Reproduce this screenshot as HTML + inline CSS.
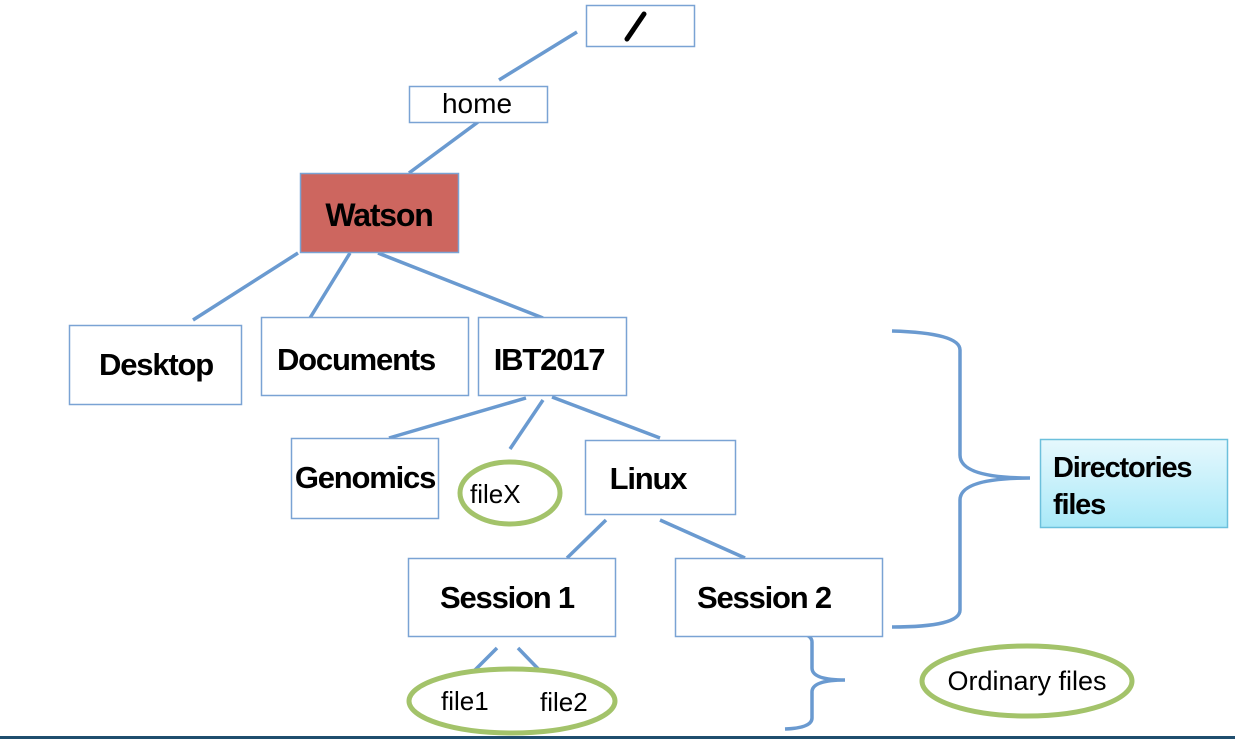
<!DOCTYPE html>
<html><head><meta charset="utf-8"><style>
html,body{margin:0;padding:0;background:#fff;}
svg{display:block}
text{font-family:"Liberation Sans",sans-serif;fill:#000}
.b{font-weight:bold;letter-spacing:-1.2px}
</style></head><body>
<svg width="1235" height="739" viewBox="0 0 1235 739" xmlns="http://www.w3.org/2000/svg">
<defs>
<linearGradient id="g" x1="0" y1="0" x2="0" y2="1"><stop offset="0" stop-color="#e6f8fd"/><stop offset="1" stop-color="#a9e9f8"/></linearGradient>
</defs>
<g fill="none" stroke="#6a9ad0" stroke-width="3.5" stroke-linecap="butt">
<line x1="577" y1="32" x2="499" y2="80"/>
<line x1="478" y1="122" x2="409" y2="173"/>
<line x1="298" y1="253" x2="193" y2="320"/>
<line x1="350" y1="253" x2="310" y2="318"/>
<line x1="378" y1="253" x2="543" y2="318"/>
<line x1="526" y1="398" x2="389" y2="438"/>
<line x1="543" y1="400" x2="510" y2="449"/>
<line x1="552" y1="397" x2="660" y2="438"/>
<line x1="606" y1="520" x2="567" y2="558"/>
<line x1="660" y1="520" x2="745" y2="558"/>
<line x1="497" y1="648" x2="467" y2="678"/>
<line x1="518" y1="648" x2="547" y2="678"/>
<path d="M892 331 Q960 333 960 350 L960 455 Q960 478 1030 478 Q960 478 960 500 L960 610 Q960 627 892 627"/>
<path d="M785 632 Q812 632 812 642 L812 668 Q812 680 845 680 Q812 680 812 692 L812 718 Q812 728 785 729"/>
</g>
<g fill="#fff" stroke="#7aa3d4" stroke-width="1.5">
<rect x="586.5" y="5.5" width="108" height="41"/>
<rect x="409.5" y="86.5" width="138" height="36"/>
<rect x="300.5" y="173.5" width="158" height="79" fill="#cd665f"/>
<rect x="69.5" y="325.5" width="172" height="79"/>
<rect x="261.5" y="317.5" width="207" height="78"/>
<rect x="478.5" y="317.5" width="148" height="78"/>
<rect x="291.5" y="438.5" width="147" height="80"/>
<rect x="585.5" y="440.5" width="150" height="74"/>
<rect x="408.5" y="558.5" width="207" height="78"/>
<rect x="675.5" y="558.5" width="207" height="78"/>
<rect x="1040.5" y="439.5" width="187" height="88" fill="url(#g)" stroke="#6cc0dc"/>
</g>
<g fill="#fff" stroke="#a3c36a" stroke-width="5">
<ellipse cx="510" cy="493" rx="50" ry="31"/>
<ellipse cx="512" cy="701" rx="103" ry="32"/>
<ellipse cx="1027" cy="681" rx="105" ry="35"/>
</g>
<line x1="627" y1="39" x2="644" y2="14" stroke="#000" stroke-width="5" stroke-linecap="round"/>
<text x="477" y="113" font-size="28" text-anchor="middle">home</text>
<text x="379" y="226" font-size="32" class="b" text-anchor="middle">Watson</text>
<text x="156" y="375" font-size="31" class="b" text-anchor="middle">Desktop</text>
<text x="356" y="370" font-size="31" class="b" text-anchor="middle">Documents</text>
<text x="549" y="370" font-size="31" class="b" text-anchor="middle">IBT2017</text>
<text x="365" y="488" font-size="31" class="b" text-anchor="middle">Genomics</text>
<text x="648" y="489" font-size="31" class="b" text-anchor="middle">Linux</text>
<text x="507" y="608" font-size="31" class="b" text-anchor="middle">Session 1</text>
<text x="764" y="608" font-size="31" class="b" text-anchor="middle">Session 2</text>
<text x="470" y="503" font-size="26">fileX</text>
<text x="441" y="710" font-size="26">file1</text>
<text x="540" y="711" font-size="26">file2</text>
<text x="1027" y="690" font-size="27" text-anchor="middle">Ordinary files</text>
<text x="1053" y="477" font-size="29" class="b">Directories</text>
<text x="1053" y="514" font-size="29" class="b">files</text>
<rect x="0" y="736" width="1235" height="3" fill="#1f4e6e"/>
</svg>
</body></html>
